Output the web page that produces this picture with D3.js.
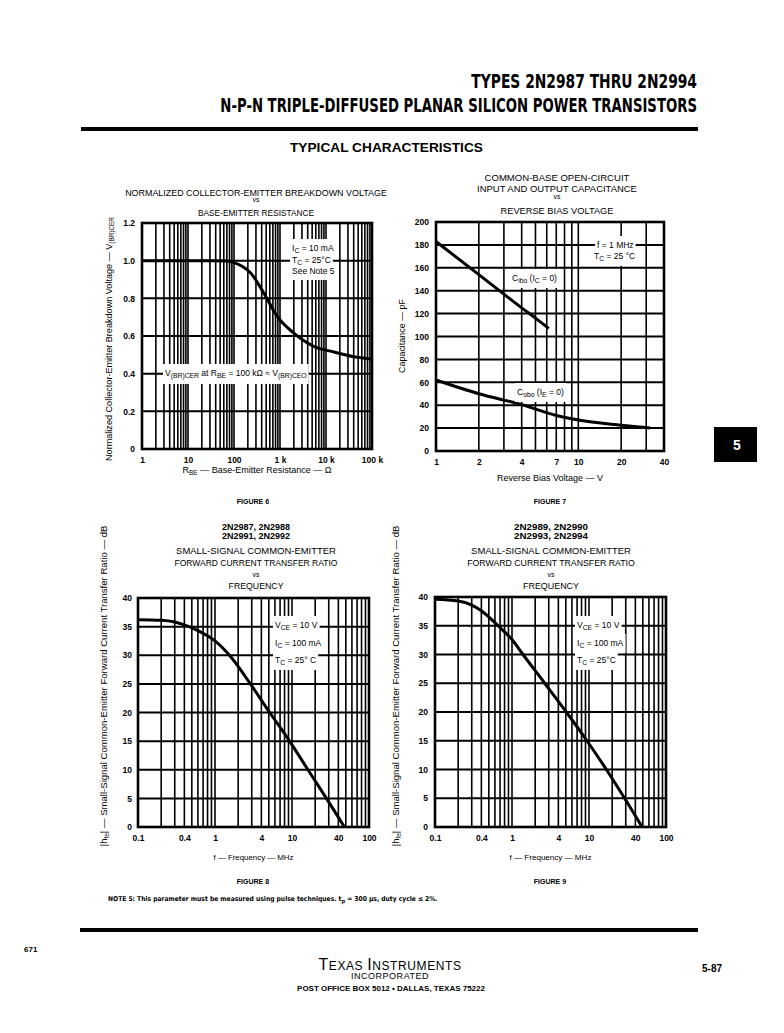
<!DOCTYPE html>
<html>
<head>
<meta charset="utf-8">
<script src="https://cdn.jsdelivr.net/npm/d3@7"></script>
<style>
  body { margin: 0; background: #fff; }
  text { font-family: "Liberation Sans", "DejaVu Sans", sans-serif; fill: #000; }
</style>
</head>
<body>
<script>
// ---- data ----
// Figure 6 : breakdown voltage vs R_BE
const fig6Rbe = [1, 30, 70, 100, 150, 230, 440, 860, 2000, 5400, 15000, 40000, 100000];
const fig6Vn  = [1.0, 1.0, 0.998, 0.99, 0.97, 0.935, 0.83, 0.705, 0.615, 0.545, 0.515, 0.49, 0.478];
const fig6XTicks = [1, 10, 100, 1000, 10000, 100000];
const fig6XLabels = ["1", "10", "100", "1 k", "10 k", "100 k"];
const fig6YTicks = [0, 0.2, 0.4, 0.6, 0.8, 1.0, 1.2];
const fig6YLabels = ["0", "0.2", "0.4", "0.6", "0.8", "1.0", "1.2"];

// Figure 7 : capacitance vs reverse bias
const fig7CiboV = [1, 2, 3, 4, 5, 6.2];
const fig7Cibo  = [183, 154, 137, 125, 116, 107];
const fig7CoboV = [1, 2, 4, 7, 10, 20, 32];
const fig7Cobo  = [62, 50, 40.5, 31, 27, 22.5, 20];
const fig7XTicks = [1, 2, 4, 7, 10, 20, 40];
const fig7YTicks = [0, 20, 40, 60, 80, 100, 120, 140, 160, 180, 200];

// Figure 8 / 9 : |hfe| vs frequency
const fig8F  = [0.1, 0.2, 0.3, 0.4, 0.6, 1, 1.63, 2.88, 5.13, 9.3, 16.1, 28, 48];
const fig8Db = [36.2, 36.1, 35.8, 35.3, 34.3, 32.5, 29.6, 25, 20, 15, 10, 5, 0];
const fig9F  = [0.1, 0.2, 0.3, 0.4, 0.66, 1, 1.39, 2.66, 5.07, 9.4, 16.8, 29, 49];
const fig9Db = [39.6, 39.3, 38.6, 37.6, 35, 32.6, 30, 25, 20, 15, 10, 5, 0];
const hfeXTicks = [0.1, 0.4, 1, 4, 10, 40, 100];
const hfeXLabels = ["0.1", "0.4", "1", "4", "10", "40", "100"];
const hfeYTicks = [0, 5, 10, 15, 20, 25, 30, 35, 40];

const W = 784, H = 1033;
const svg = d3.select("body").append("svg").attr("width", W).attr("height", H);
const narrow = "'Liberation Sans Narrow', 'DejaVu Sans Condensed', sans-serif";

// shrink/grow font so a line spans the wanted width
function fit(t, width) {
  const size = parseFloat(t.style("font-size"));
  const len = t.node().getComputedTextLength();
  t.style("font-size", (size * width / len).toFixed(2) + "px");
  return t;
}

// squeeze a right-aligned line horizontally only (keeps its height)
function squeezeRight(txt, xr, y, width, size) {
  const t = svg.append("text").attr("x", 0).attr("y", 0).attr("text-anchor", "end")
    .style("font-family", narrow).style("font-weight", "bold").style("font-size", size + "px")
    .text(txt);
  const s = width / t.node().getComputedTextLength();
  t.attr("transform", `translate(${xr},${y}) scale(${s.toFixed(3)},1)`);
  return t;
}

// ---- page header ----
squeezeRight("TYPES 2N2987 THRU 2N2994", 697, 88, 226, 19);
squeezeRight("N-P-N TRIPLE-DIFFUSED PLANAR SILICON POWER TRANSISTORS", 697, 112, 477, 19);
svg.append("rect").attr("x", 81).attr("y", 127).attr("width", 617).attr("height", 4);
fit(svg.append("text").attr("x", 290).attr("y", 152)
  .style("font-weight", "bold").style("font-size", "12px")
  .text("TYPICAL  CHARACTERISTICS"), 193);

// side tab
svg.append("rect").attr("x", 714).attr("y", 427).attr("width", 43).attr("height", 35).attr("fill", "#000");
svg.append("text").attr("x", 737).attr("y", 450).attr("text-anchor", "middle")
  .style("font-weight", "bold").style("font-size", "14px").style("fill", "#fff").text("5");

// ---- helpers ----
function centered(lines, cx) {
  lines.forEach(([txt, y, len, bold]) => {
    const t = svg.append("text").attr("x", cx).attr("y", y).attr("text-anchor", "middle")
      .style("font-size", len ? "8.5px" : "7px").text(txt);
    if (bold) t.style("font-weight", "bold");
    if (len) fit(t, len);
  });
}

// rich text: array of [string, "sub"|null]
function rich(parent, x, y, parts, size, anchor) {
  const t = parent.append("text").attr("x", x).attr("y", y)
    .attr("text-anchor", anchor || "start").style("font-size", size + "px");
  parts.forEach(([s, mode]) => {
    const sp = t.append("tspan").text(s);
    if (mode === "sub") sp.attr("baseline-shift", "-28%").style("font-size", (size * 0.8) + "px");
  });
  return t;
}

// annotations: all white patches go under all texts
function notes(g, list) {
  const ng = g.append("g");
  const texts = list.map(n => rich(ng, n[0], n[1], n[2], n[3] || 8.5));
  texts.forEach(t => {
    const b = t.node().getBBox();
    ng.insert("rect", ":first-child")
      .attr("x", b.x - 2).attr("y", b.y - 4).attr("width", b.width + 4).attr("height", b.height + 8)
      .attr("fill", "#fff");
  });
}

function panel(cfg) {
  const g = svg.append("g");
  const x = d3.scaleLog().domain(cfg.xDomain).range([cfg.left, cfg.right]);
  const y = d3.scaleLinear().domain(cfg.yDomain).range([cfg.bottom, cfg.top]);

  // log grid
  g.append("g").selectAll("line").data(x.ticks()).join("line")
    .attr("x1", d => x(d)).attr("x2", d => x(d))
    .attr("y1", cfg.top).attr("y2", cfg.bottom)
    .attr("stroke", "#000").attr("stroke-width", 1.6);
  g.append("g").selectAll("line").data(cfg.yTicks).join("line")
    .attr("x1", cfg.left).attr("x2", cfg.right)
    .attr("y1", d => y(d)).attr("y2", d => y(d))
    .attr("stroke", "#000").attr("stroke-width", 2);
  g.append("rect").attr("x", cfg.left).attr("y", cfg.top)
    .attr("width", cfg.right - cfg.left).attr("height", cfg.bottom - cfg.top)
    .attr("fill", "none").attr("stroke", "#000").attr("stroke-width", 2.6);

  // curves
  const line = d3.line().x(d => x(d[0])).y(d => y(d[1])).curve(d3.curveMonotoneX);
  cfg.curves.forEach(c => {
    g.append("path").datum(d3.zip(c[0], c[1])).attr("d", line)
      .attr("fill", "none").attr("stroke", "#000").attr("stroke-width", 3);
  });

  // axes
  const xa = g.append("g").attr("transform", `translate(0,${cfg.bottom})`)
    .call(d3.axisBottom(x).tickValues(cfg.xTicks).tickSize(0).tickPadding(8)
      .tickFormat((d, i) => cfg.xLabels ? cfg.xLabels[i] : d));
  const ya = g.append("g").attr("transform", `translate(${cfg.left},0)`)
    .call(d3.axisLeft(y).tickValues(cfg.yTicks).tickSize(0).tickPadding(cfg.yPad || 7)
      .tickFormat((d, i) => cfg.yLabels ? cfg.yLabels[i] : d));
  [xa, ya].forEach(a => {
    a.select(".domain").remove();
    a.selectAll("text").style("font-family", "'Liberation Sans', sans-serif")
      .style("font-size", "8.5px").style("font-weight", "bold");
  });

  // axis titles
  const xt = rich(g, (cfg.left + cfg.right) / 2, cfg.xTitleY, cfg.xTitle, 8, "middle");
  fit(xt, cfg.xTitleLen);
  const yt = rich(g, 0, 0, cfg.yTitle, 8, "middle")
    .attr("transform", `translate(${cfg.yTitleX},${cfg.yTitleCY}) rotate(-90)`);
  fit(yt, cfg.yTitleLen);

  notes(g, cfg.notes);
  return g;
}

// ---- Figure 6 ----
centered([
  ["NORMALIZED COLLECTOR-EMITTER BREAKDOWN VOLTAGE", 196, 262],
  ["vs", 202],
  ["BASE-EMITTER RESISTANCE", 216, 116]
], 256);
panel({
  left: 142, right: 372, top: 223, bottom: 449,
  xDomain: [1, 100000], yDomain: [0, 1.2],
  xTicks: fig6XTicks, xLabels: fig6XLabels, yTicks: fig6YTicks, yLabels: fig6YLabels,
  curves: [[fig6Rbe, fig6Vn]],
  xTitle: [["R", null], ["BE", "sub"], ["  — Base-Emitter Resistance — Ω", null]], xTitleY: 473, xTitleLen: 150,
  yTitle: [["Normalized Collector-Emitter Breakdown Voltage — V", null], ["(BR)CER", "sub"]],
  yTitleX: 112, yTitleCY: 339, yTitleLen: 248,
  notes: [
    [292, 251, [["I", null], ["C", "sub"], ["  =  10 mA", null]]],
    [292, 263, [["T", null], ["C", "sub"], ["  =  25°C", null]]],
    [292, 274, [["See Note 5", null]]],
    [165, 376, [["V", null], ["(BR)CER", "sub"], ["  at R", null], ["BE", "sub"], [" = 100 kΩ ≈ V", null], ["(BR)CEO", "sub"]]]
  ]
});

// ---- Figure 7 ----
centered([
  ["COMMON-BASE OPEN-CIRCUIT", 181, 145],
  ["INPUT AND OUTPUT CAPACITANCE", 192, 160],
  ["vs", 199],
  ["REVERSE BIAS VOLTAGE", 214, 113]
], 557);
panel({
  left: 436, right: 664, top: 222, bottom: 451,
  xDomain: [1, 40], yDomain: [0, 200],
  xTicks: fig7XTicks, yTicks: fig7YTicks,
  curves: [[fig7CiboV, fig7Cibo], [fig7CoboV, fig7Cobo]],
  xTitle: [["Reverse Bias Voltage — V", null]], xTitleY: 481, xTitleLen: 106,
  yTitle: [["Capacitance — pF", null]], yTitleX: 405, yTitleCY: 336, yTitleLen: 74,
  notes: [
    [597, 248, [["f = 1 MHz", null]]],
    [594, 259, [["T", null], ["C", "sub"], [" = 25 °C", null]]],
    [512, 281, [["C", null], ["ibo", "sub"], [" (I", null], ["C", "sub"], [" = 0)", null]]],
    [517, 395, [["C", null], ["obo", "sub"], [" (I", null], ["E", "sub"], [" = 0)", null]]]
  ]
});

svg.append("text").attr("x", 253).attr("y", 504).attr("text-anchor", "middle")
  .style("font-size", "7px").style("font-weight", "bold").text("FIGURE 6");
svg.append("text").attr("x", 550).attr("y", 504).attr("text-anchor", "middle")
  .style("font-size", "7px").style("font-weight", "bold").text("FIGURE 7");

// ---- Figure 8 ----
centered([
  ["2N2987, 2N2988", 530, 68, true],
  ["2N2991, 2N2992", 539, 68, true],
  ["SMALL-SIGNAL COMMON-EMITTER", 554, 160],
  ["FORWARD CURRENT TRANSFER RATIO", 566, 163],
  ["vs", 577],
  ["FREQUENCY", 589, 55]
], 256);
panel({
  left: 138, right: 369, top: 598, bottom: 827,
  xDomain: [0.1, 100], yDomain: [0, 40],
  xTicks: hfeXTicks, xLabels: hfeXLabels, yTicks: hfeYTicks, yPad: 6,
  curves: [[fig8F, fig8Db]],
  xTitle: [["f — Frequency — MHz", null]], xTitleY: 860, xTitleLen: 80,
  yTitle: [["|h", null], ["fe", "sub"], ["| — Small-Signal Common-Emitter Forward Current Transfer Ratio — dB", null]],
  yTitleX: 107, yTitleCY: 686, yTitleLen: 322,
  notes: [
    [275, 628, [["V", null], ["CE", "sub"], [" = 10 V", null]]],
    [275, 646, [["I", null], ["C", "sub"], [" = 100 mA", null]]],
    [275, 663, [["T", null], ["C", "sub"], [" = 25° C", null]]]
  ]
});

// ---- Figure 9 ----
centered([
  ["2N2989, 2N2990", 530, 74, true],
  ["2N2993, 2N2994", 539, 74, true],
  ["SMALL-SIGNAL COMMON-EMITTER", 554, 160],
  ["FORWARD CURRENT TRANSFER RATIO", 566, 168],
  ["vs", 577],
  ["FREQUENCY", 589, 56]
], 551);
panel({
  left: 435, right: 666, top: 597, bottom: 827,
  xDomain: [0.1, 100], yDomain: [0, 40],
  xTicks: hfeXTicks, xLabels: hfeXLabels, yTicks: hfeYTicks, yPad: 7,
  curves: [[fig9F, fig9Db]],
  xTitle: [["f — Frequency — MHz", null]], xTitleY: 860, xTitleLen: 82,
  yTitle: [["|h", null], ["fe", "sub"], ["| — Small-Signal Common-Emitter Forward Current Transfer Ratio — dB", null]],
  yTitleX: 399, yTitleCY: 686, yTitleLen: 322,
  notes: [
    [577, 628, [["V", null], ["CE", "sub"], [" = 10 V", null]]],
    [577, 646, [["I", null], ["C", "sub"], [" = 100 mA", null]]],
    [577, 663, [["T", null], ["C", "sub"], [" = 25°C", null]]]
  ]
});

svg.append("text").attr("x", 253).attr("y", 884).attr("text-anchor", "middle")
  .style("font-size", "7px").style("font-weight", "bold").text("FIGURE 8");
svg.append("text").attr("x", 550).attr("y", 884).attr("text-anchor", "middle")
  .style("font-size", "7px").style("font-weight", "bold").text("FIGURE 9");

// ---- footer ----
fit(rich(svg, 108, 901, [["NOTE 5: This parameter must be measured using pulse techniques. t", null], ["p", "sub"],
  [" = 300 µs, duty cycle ≤ 2%.", null]], 7)
  .style("font-family", narrow).style("font-weight", "bold"), 330);
svg.append("rect").attr("x", 80).attr("y", 928).attr("width", 618).attr("height", 4);
svg.append("text").attr("x", 24).attr("y", 952).style("font-size", "8px").style("font-weight", "bold").text("671");
const ti = svg.append("text").attr("x", 390).attr("y", 970).attr("text-anchor", "middle")
  .style("font-size", "12px").style("letter-spacing", "0.6px");
[["T", 16], ["EXAS ", 12], ["I", 16], ["NSTRUMENTS", 12]].forEach(([s, fs]) =>
  ti.append("tspan").style("font-size", fs + "px").text(s));
fit(svg.append("text").attr("x", 390).attr("y", 979).attr("text-anchor", "middle")
  .style("font-size", "7px").style("letter-spacing", "0.5px").text("INCORPORATED"), 80);
fit(svg.append("text").attr("x", 391).attr("y", 991).attr("text-anchor", "middle")
  .style("font-size", "6px").style("font-weight", "bold").text("POST OFFICE BOX 5012 • DALLAS, TEXAS 75222"), 188);
svg.append("text").attr("x", 722).attr("y", 972).attr("text-anchor", "end")
  .style("font-size", "10px").style("font-weight", "bold").text("5-87");
</script>
</body>
</html>
